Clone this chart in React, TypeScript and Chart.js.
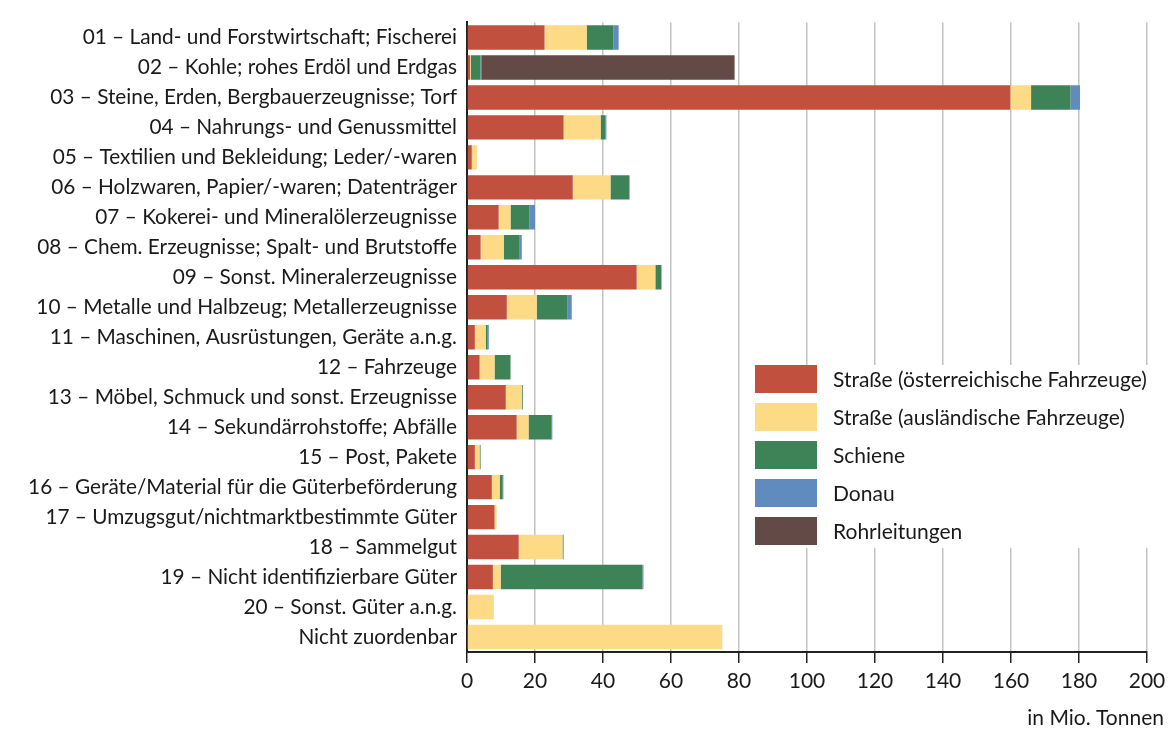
import React, { useEffect, useRef } from "react";
import { Chart, registerables } from "chart.js";

Chart.register(...registerables);

const categories = [
  "01 – Land- und Forstwirtschaft; Fischerei",
  "02 – Kohle; rohes Erdöl und Erdgas",
  "03 – Steine, Erden, Bergbauerzeugnisse; Torf",
  "04 – Nahrungs- und Genussmittel",
  "05 – Textilien und Bekleidung; Leder/-waren",
  "06 – Holzwaren, Papier/-waren; Datenträger",
  "07 – Kokerei- und Mineralölerzeugnisse",
  "08 – Chem. Erzeugnisse; Spalt- und Brutstoffe",
  "09 – Sonst. Mineralerzeugnisse",
  "10 – Metalle und Halbzeug; Metallerzeugnisse",
  "11 – Maschinen, Ausrüstungen, Geräte a.n.g.",
  "12 – Fahrzeuge",
  "13 – Möbel, Schmuck und sonst. Erzeugnisse",
  "14 – Sekundärrohstoffe; Abfälle",
  "15 – Post, Pakete",
  "16 – Geräte/Material für die Güterbeförderung",
  "17 – Umzugsgut/nichtmarktbestimmte Güter",
  "18 – Sammelgut",
  "19 – Nicht identifizierbare Güter",
  "20 – Sonst. Güter a.n.g.",
  "Nicht zuordenbar",
];

const strasseAT = [22.8, 0.9, 159.8, 28.4, 1.4, 31.1, 9.3, 4.0, 49.9, 11.7, 2.3, 3.7, 11.4, 14.6, 2.3, 7.3, 8.1, 15.2, 7.6, 0, 0];
const strasseAusl = [12.4, 0.2, 6.1, 10.9, 1.5, 11.1, 3.5, 6.8, 5.5, 8.8, 3.2, 4.4, 4.7, 3.5, 1.4, 2.3, 0.6, 12.9, 2.3, 7.9, 75.1];
const schiene = [7.9, 2.9, 11.6, 1.4, 0, 5.6, 5.6, 4.7, 1.8, 9.1, 0.6, 4.7, 0.3, 6.8, 0.3, 0.9, 0, 0.3, 41.7, 0, 0];
const donau = [1.5, 0.2, 2.8, 0.3, 0, 0, 1.6, 0.6, 0, 1.2, 0.3, 0, 0, 0.2, 0, 0.2, 0, 0, 0.3, 0, 0];
const rohrleitungen = [0, 74.5, 0, 0, 0, 0, 0, 0, 0, 0, 0, 0, 0, 0, 0, 0, 0, 0, 0, 0, 0];

const seriesLabels = [
  "Straße (österreichische Fahrzeuge)",
  "Straße (ausländische Fahrzeuge)",
  "Schiene",
  "Donau",
  "Rohrleitungen",
];
const seriesColors = ["#c1503f", "#fcda86", "#3e8358", "#5f8bbe", "#634a46"];

const xTicksMin = 0;
const xTicksMax = 200;
const xTickStep = 20;
const axisTitle = "in Mio. Tonnen";

const FONT = "Lato";
const TEXT = "#1a1a1a";

const legendPlugin = {
  id: "customLegend",
  afterDraw(chart: any) {
    const ctx = chart.ctx;
    ctx.save();
    ctx.fillStyle = "#ffffff";
    ctx.fillRect(746, 365, 419, 183);
    chart.data.datasets.forEach((ds: any, i: number) => {
      const y = 365 + i * 38;
      ctx.fillStyle = ds.backgroundColor;
      ctx.fillRect(755, y, 62, 28);
      ctx.fillStyle = TEXT;
      ctx.font = `21px ${FONT}`;
      ctx.textBaseline = "middle";
      ctx.textAlign = "left";
      ctx.fillText(ds.label, 833, y + 15);
    });
    ctx.font = `21px ${FONT}`;
    ctx.textAlign = "right";
    ctx.textBaseline = "middle";
    ctx.fillStyle = TEXT;
    ctx.fillText(axisTitle, 1164, 718);
    ctx.restore();
  },
};

export default function App() {
  const ref = useRef<HTMLCanvasElement>(null);
  useEffect(() => {
    document.body.style.margin = "0";
    const seriesData = [strasseAT, strasseAusl, schiene, donau, rohrleitungen];
    const chart = new Chart(ref.current!, {
      type: "bar",
      data: {
        labels: categories,
        datasets: seriesData.map((d, i) => ({
          label: seriesLabels[i],
          data: d,
          backgroundColor: seriesColors[i],
          borderWidth: 0,
          barPercentage: 0.815,
          categoryPercentage: 1,
        })),
      },
      options: {
        indexAxis: "y",
        animation: false,
        responsive: true,
        maintainAspectRatio: false,
        layout: { padding: { top: 9, right: 28, left: 0, bottom: 0 } },
        plugins: { legend: { display: false }, tooltip: { enabled: false } },
        scales: {
          x: {
            stacked: true,
            min: xTicksMin,
            max: xTicksMax,
            ticks: { stepSize: xTickStep, color: TEXT, font: { family: FONT, size: 21 }, padding: 6 },
            grid: { color: "#c2c2c2", lineWidth: 1.5, tickColor: "#222", tickLength: 11 },
            border: { color: "#222", width: 2 },
            afterFit: (s: any) => { s.height = 77; },
          },
          y: {
            stacked: true,
            ticks: { color: TEXT, font: { family: FONT, size: 20.8 }, padding: 10, autoSkip: false },
            grid: { drawOnChartArea: false, drawTicks: false },
            border: { color: "#222", width: 2 },
            afterFit: (s: any) => { s.width = 467; },
          },
        },
      },
      plugins: [legendPlugin],
    });
    return () => chart.destroy();
  }, []);
  return (
    <div style={{ width: 1175, height: 729, position: "relative" }}>
      <canvas ref={ref} />
    </div>
  );
}
